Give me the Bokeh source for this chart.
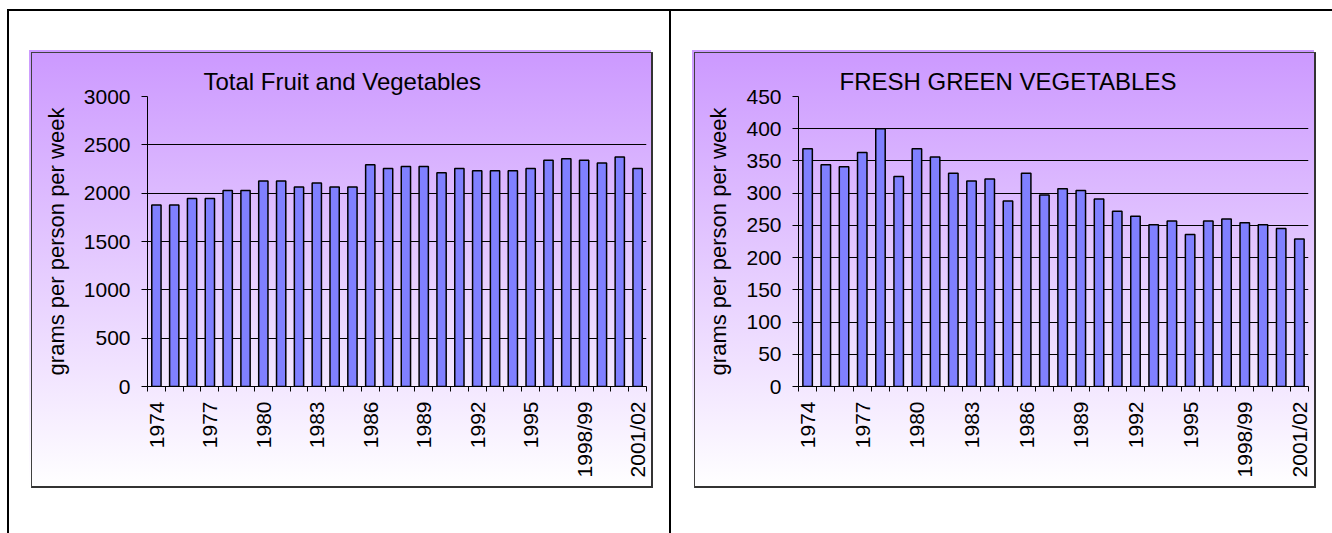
import math
from bokeh.plotting import figure
from bokeh.layouts import row
from bokeh.models import Range1d, FixedTicker, SingleIntervalTicker
from bokeh.embed import file_html
from bokeh.resources import INLINE

# ---------------- data ----------------
categories = [str(y) for y in range(1974, 1998)] + ["1998/99", "1999/00", "2000/01", "2001/02"]
shown_labels = ["1974", "1977", "1980", "1983", "1986", "1989", "1992", "1995", "1998/99", "2001/02"]

total_fruit_veg = [1878, 1878, 1944, 1944, 2027, 2027, 2127, 2127, 2065, 2106,
                   2065, 2065, 2293, 2254, 2275, 2275, 2210, 2254, 2233, 2233,
                   2233, 2254, 2340, 2355, 2340, 2313, 2375, 2254]
fresh_green_veg = [369, 344, 341, 363, 400, 326, 369, 356, 331, 319,
                   322, 288, 331, 297, 307, 304, 291, 272, 264, 251,
                   257, 236, 257, 260, 254, 251, 245, 229]

title_left = "Total Fruit and Vegetables"
title_right = "FRESH GREEN VEGETABLES"
y_label = "grams per person per week"

FONT = "Liberation Sans"
BAR_FILL = "#8080FF"
GRAD = "linear-gradient(#CC99FF, #FFFFFF)"


def solid(c):
    return f"linear-gradient({c},{c})"


def css_layers(layers):
    return ", ".join(f"{img} {x}px {y}px / {w}px {h}px no-repeat" for (img, x, y, w, h) in layers)


def make_panel(values, title, y_max, y_step, width, height, left, right, top, bottom,
               title_offset, layers):
    idx = list(range(len(categories)))
    p = figure(width=width, height=height, output_backend="svg", toolbar_location=None,
               x_range=Range1d(-0.5, len(categories) - 0.5), y_range=Range1d(0, y_max),
               min_border_left=left, min_border_right=right,
               min_border_top=top, min_border_bottom=bottom,
               background_fill_color=None, border_fill_color=None,
               outline_line_color=None,
               styles={"background": css_layers(layers)})
    p.vbar(x=idx, top=values, width=0.52, fill_color=BAR_FILL,
           line_color="black", line_width=1.5)

    # title
    p.title.text = title
    p.title.align = "left"
    p.title.offset = title_offset
    p.title.text_font = FONT
    p.title.text_font_size = "24px"
    p.title.text_font_style = "normal"
    p.title.text_color = "black"
    p.title.standoff = 4

    # x axis
    label_pos = [categories.index(l) for l in shown_labels]
    xa = p.xaxis[0]
    xa.ticker = FixedTicker(ticks=label_pos, minor_ticks=[i - 0.5 for i in range(len(categories) + 1)])
    xa.major_label_overrides = {i: categories[i] for i in label_pos}
    xa.major_label_orientation = math.pi / 2
    xa.major_tick_line_color = None
    xa.major_tick_out = 5
    xa.major_tick_in = 0
    xa.minor_tick_out = 5
    xa.minor_tick_in = 0
    xa.minor_tick_line_color = "black"
    xa.axis_line_color = "black"
    xa.major_label_text_font = FONT
    xa.major_label_text_font_size = "21px"
    xa.major_label_text_color = "black"
    xa.major_label_standoff = 10

    # y axis
    ya = p.yaxis[0]
    ya.ticker = SingleIntervalTicker(interval=y_step, num_minor_ticks=0)
    ya.axis_label = y_label
    ya.axis_label_text_font = FONT
    ya.axis_label_text_font_size = "22px"
    ya.axis_label_text_font_style = "normal"
    ya.axis_label_text_color = "black"
    ya.axis_label_standoff = 12
    ya.major_label_text_font = FONT
    ya.major_label_text_font_size = "21px"
    ya.major_label_text_color = "black"
    ya.major_label_standoff = 11
    ya.major_tick_out = 6
    ya.major_tick_in = 0
    ya.minor_tick_line_color = None
    ya.axis_line_color = "black"

    p.xgrid.grid_line_color = None
    p.ygrid.grid_line_color = "black"
    p.ygrid.grid_line_width = 1
    return p


H = 533
left_layers = [
    (solid("#000"), 7, 9, 2, 530),
    (solid("#000"), 7, 9, 665, 2),
    (solid("#000"), 669, 9, 2, 530),
    (solid("#404040"), 31, 52, 1, 436),
    (solid("#404040"), 31, 52, 622, 1),
    (solid("#333"), 651, 52, 2, 436),
    (solid("#333"), 31, 486, 622, 2),
    (GRAD, 31, 52, 622, 436),
    (GRAD, 29, 50, 622, 436),
]
right_layers = [
    (solid("#000"), 0, 9, 660, 2),
    (solid("#404040"), 22, 52, 1, 436),
    (solid("#404040"), 22, 52, 622, 1),
    (solid("#333"), 642, 52, 2, 436),
    (solid("#333"), 22, 486, 622, 2),
    (GRAD, 22, 52, 622, 436),
    (GRAD, 20, 50, 622, 436),
]

p1 = make_panel(total_fruit_veg, title_left, 3000, 500, 672, H,
                left=147, right=26, top=96, bottom=147, title_offset=56, layers=left_layers)
p2 = make_panel(fresh_green_veg, title_right, 450, 50, 660, H,
                left=126, right=24, top=96, bottom=147, title_offset=41, layers=right_layers)

layout = row(p1, p2)
open("out.html", "w").write(file_html(layout, INLINE))
